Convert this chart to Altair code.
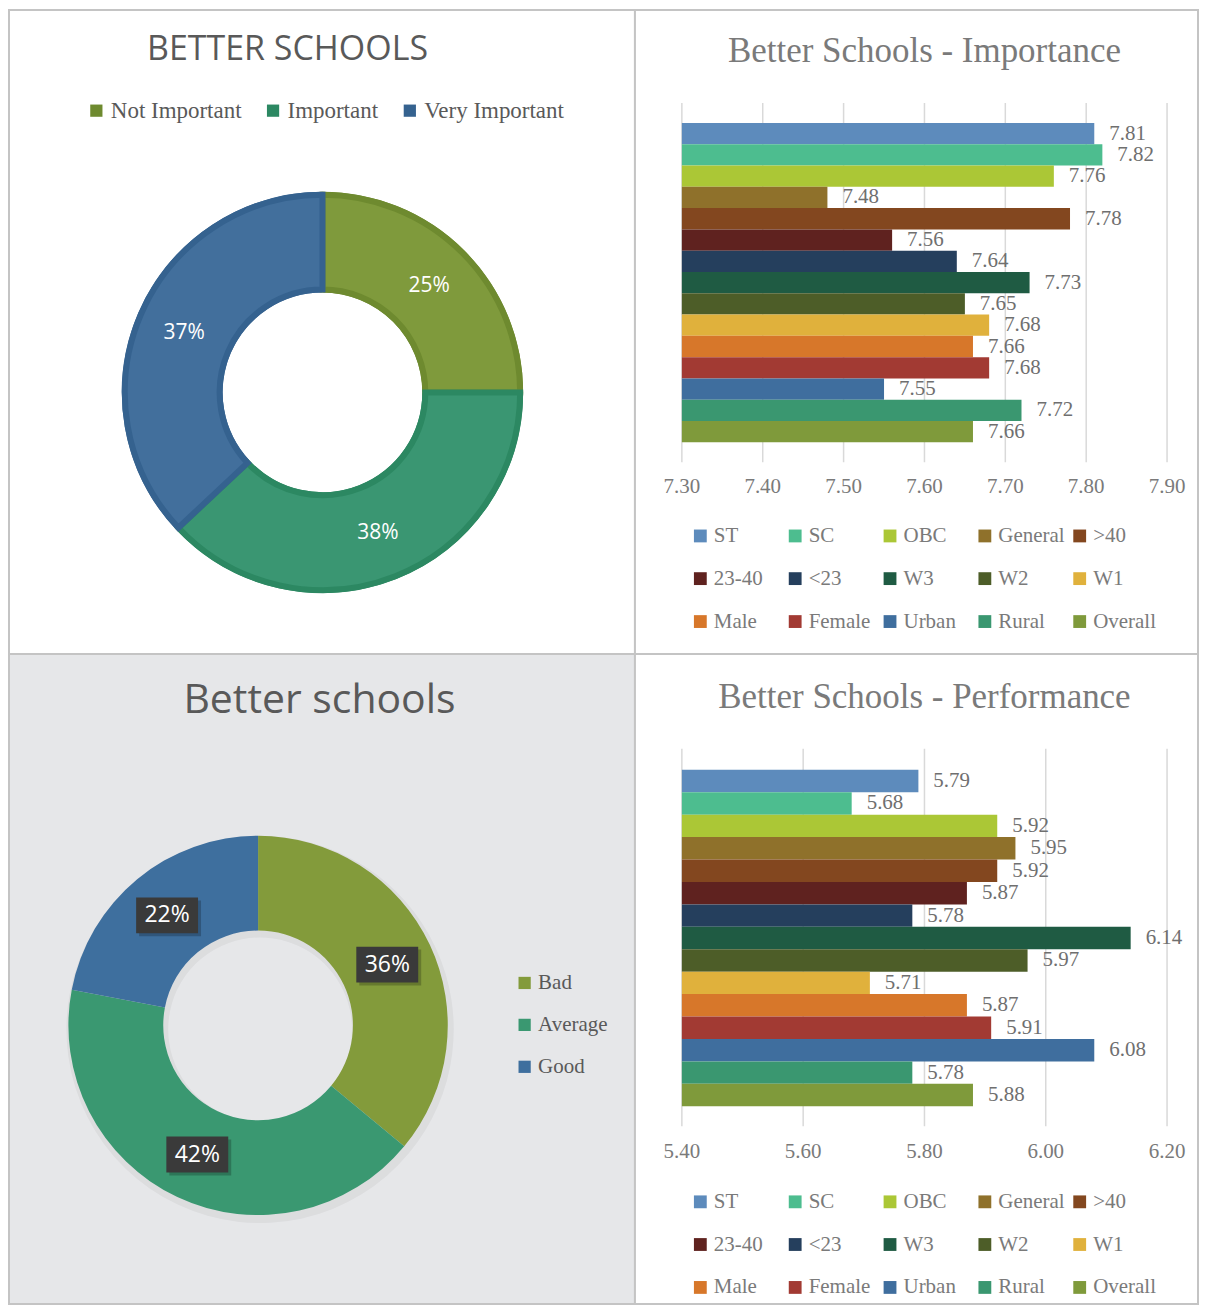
import altair as alt
import pandas as pd

# ---------------- data ----------------
title_a = ["BETTER SCHOOLS"]
title_b = ["Better Schools - Importance"]
title_c = ["Better schools"]
title_d = ["Better Schools - Performance"]

imp_labels = ["Not Important", "Important", "Very Important"]
imp_values = [25, 38, 37]

perf_labels = ["Bad", "Average", "Good"]
perf_values = [36, 42, 22]

groups = ["ST", "SC", "OBC", "General", ">40", "23-40", "<23", "W3", "W2", "W1",
          "Male", "Female", "Urban", "Rural", "Overall"]
importance = [7.81, 7.82, 7.76, 7.48, 7.78, 7.56, 7.64, 7.73, 7.65, 7.68,
              7.66, 7.68, 7.55, 7.72, 7.66]
performance = [5.79, 5.68, 5.92, 5.95, 5.92, 5.87, 5.78, 6.14, 5.97, 5.71,
               5.87, 5.91, 6.08, 5.78, 5.88]
imp_ticks = [7.30, 7.40, 7.50, 7.60, 7.70, 7.80, 7.90]
perf_ticks = [5.40, 5.60, 5.80, 6.00, 6.20]

# ---------------- styles ----------------
group_colors = ["#5d8bbc", "#4dbd8f", "#abc736", "#8f712b", "#83471f", "#5f221f",
                "#253f5d", "#1f5b43", "#4d5d28", "#e0b13c", "#d7772a", "#a23a33",
                "#3f6e9e", "#3a9770", "#7f9a3b"]
imp_fill = ["#7f9a3c", "#3a9672", "#426f9c"]
imp_edge = ["#6e8a2f", "#2c8862", "#35628f"]
perf_fill = ["#839b3b", "#3a9871", "#3e6f9e"]

SANS = "Open Sans"
SERIF = "Liberation Serif"
BORDER = "#c4c4c4"


def title_layer(text, x, y, font, size, color):
    return alt.Chart(pd.DataFrame({"t": text})).mark_text(
        font=font, fontSize=size, color=color, baseline="middle", align="center"
    ).encode(text="t:N", x=alt.value(x), y=alt.value(y))


# ---------------- panel A: importance donut ----------------
cxA, cyA = 314, 383
dfA = pd.DataFrame({"cat": imp_labels, "val": imp_values, "idx": list(range(len(imp_values)))})
dfA["lab"] = [f"{v}%" for v in imp_values]
thetaA = alt.Theta("val:Q", stack=True)
orderA = alt.Order("idx:Q")

a_base = alt.Chart(dfA).mark_arc(innerRadius=100, outerRadius=201).encode(
    theta=thetaA, order=orderA,
    color=alt.Color("cat:N", scale=alt.Scale(domain=imp_labels, range=imp_edge),
                    legend=alt.Legend(orient="none", direction="horizontal", legendX=76, legendY=89,
                                      title=None, symbolType="square", symbolSize=150,
                                      symbolStrokeWidth=0, labelFont=SERIF, labelFontSize=23,
                                      labelColor="#595959", columnPadding=20, labelOffset=3)),
    x=alt.value(cxA), y=alt.value(cyA))
a_face = alt.Chart(dfA).mark_arc(innerRadius=103, outerRadius=198, strokeWidth=6).encode(
    theta=thetaA, order=orderA,
    fill=alt.Fill("cat:N", scale=alt.Scale(domain=imp_labels, range=imp_fill), legend=None),
    stroke=alt.Stroke("cat:N", scale=alt.Scale(domain=imp_labels, range=imp_edge), legend=None),
    x=alt.value(cxA), y=alt.value(cyA))
a_text = alt.Chart(dfA).mark_text(radius=151, font=SANS, fontSize=21, color="white").encode(
    theta=thetaA, order=orderA, text="lab:N", x=alt.value(cxA), y=alt.value(cyA))
panelA = alt.layer(
    a_base, a_face, a_text,
    title_layer(title_a, 279, 40, SANS, 34, "#595959"),
).properties(width=627, height=645)

# ---------------- bar panel builder ----------------

def bar_panel(values, ticks, title, W, H, gy, by, ty, ly):
    df = pd.DataFrame({"grp": groups, "val": values})
    tdf = pd.DataFrame({"t": ticks})
    xs = alt.Scale(domain=[ticks[0], ticks[-1]], range=[47, 533], zero=False, nice=False)
    ys = alt.Scale(domain=groups, range=list(by), paddingInner=0, paddingOuter=0)
    grid = alt.Chart(tdf).mark_rule(color="#d9d9d9", strokeWidth=1.5).encode(
        x=alt.X("t:Q", scale=xs, axis=None), y=alt.value(gy[0]), y2=alt.value(gy[1]))
    tlab = alt.Chart(tdf).mark_text(font=SERIF, fontSize=21, color="#7a7a7a", baseline="middle").encode(
        x=alt.X("t:Q", scale=xs, axis=None), y=alt.value(ty), text=alt.Text("t:Q", format=".2f"))
    bars = alt.Chart(df).mark_bar().encode(
        x=alt.X("val:Q", scale=xs, axis=None), x2=alt.datum(ticks[0]),
        y=alt.Y("grp:N", scale=ys, axis=None, sort=groups),
        color=alt.Color("grp:N", scale=alt.Scale(domain=groups, range=group_colors),
                        legend=alt.Legend(orient="none", direction="horizontal", columns=5,
                                          legendX=55, legendY=ly, title=None, symbolType="square",
                                          symbolSize=165, symbolStrokeWidth=0, labelFont=SERIF,
                                          labelFontSize=21, labelColor="#7a7a7a", gridAlign="all",
                                          columnPadding=4, rowPadding=21, labelOffset=3)))
    vlab = alt.Chart(df).mark_text(font=SERIF, fontSize=21, color="#6f6f6f", align="left",
                                   baseline="middle", dx=15).encode(
        x=alt.X("val:Q", scale=xs, axis=None), y=alt.Y("grp:N", scale=ys, axis=None, sort=groups),
        text=alt.Text("val:Q", format=".2f"))
    return alt.layer(grid, bars, vlab, tlab,
                     title_layer(title, 290, gy[0] - 52, SERIF, 35, "#7a7a7a")
                     ).properties(width=W, height=H)


panelB = bar_panel(importance, imp_ticks, title_b, 564, 645, (93, 453), (113, 433), 478, 516)
panelD = bar_panel(performance, perf_ticks, title_d, 564, 651, (95, 473), (116, 453), 499, 538)

# ---------------- panel C: performance donut ----------------
cxC, cyC = 249.5, 372
dfC = pd.DataFrame({"cat": perf_labels, "val": perf_values, "idx": list(range(len(perf_values)))})
dfC["lab"] = [f"{v}%" for v in perf_values]
thetaC = alt.Theta("val:Q", stack=True)
orderC = alt.Order("idx:Q")

c_shadow = alt.Chart(dfC).mark_arc(innerRadius=92, outerRadius=194, color="black", opacity=0.045).encode(
    theta=thetaC, order=orderC, x=alt.value(cxC + 2), y=alt.value(cyC + 4))
c_arc = alt.Chart(dfC).mark_arc(innerRadius=95, outerRadius=190).encode(
    theta=thetaC, order=orderC,
    color=alt.Color("cat:N", scale=alt.Scale(domain=perf_labels, range=perf_fill),
                    legend=alt.Legend(orient="none", direction="vertical", legendX=506, legendY=319,
                                      title=None, symbolType="square", symbolSize=150,
                                      symbolStrokeWidth=0, labelFont=SERIF, labelFontSize=21,
                                      labelColor="#595959", rowPadding=20, labelOffset=3)),
    x=alt.value(cxC), y=alt.value(cyC))

lab_pos = alt.Chart(dfC).transform_joinaggregate(total="sum(val)").transform_window(
    cum="sum(val)", sort=[alt.SortField("idx")], frame=[None, 0]
).transform_calculate(
    ang="2*PI*(datum.cum - datum.val/2)/datum.total",
    px=f"{cxC} + 143*sin(datum.ang)",
    py=f"{cyC} - 143*cos(datum.ang)",
    bx1="datum.px - 31", bx2="datum.px + 31", by1="datum.py - 18", by2="datum.py + 18",
    sx1="datum.px - 28", sx2="datum.px + 34", sy1="datum.py - 15", sy2="datum.py + 21",
)
c_boxshadow = lab_pos.mark_rect(color="black", opacity=0.22).encode(
    x=alt.X("sx1:Q", scale=None, axis=None), x2="sx2:Q",
    y=alt.Y("sy1:Q", scale=None, axis=None), y2="sy2:Q")
c_box = lab_pos.mark_rect(color="#3a3a3a").encode(
    x=alt.X("bx1:Q", scale=None, axis=None), x2="bx2:Q",
    y=alt.Y("by1:Q", scale=None, axis=None), y2="by2:Q")
c_text = lab_pos.mark_text(font=SANS, fontSize=23, color="white", baseline="middle").encode(
    x=alt.X("px:Q", scale=None, axis=None), y=alt.Y("py:Q", scale=None, axis=None), text="lab:N")

panelC = alt.layer(
    c_shadow, c_arc, c_boxshadow, c_box, c_text,
    title_layer(title_c, 311, 47, SANS, 41, "#595959"),
).properties(width=627, height=651,
             view=alt.ViewBackground(fill="#e6e7e9", stroke=BORDER, strokeWidth=2))

chart = alt.concat(panelA, panelB, panelC, panelD, columns=2, spacing=0).resolve_scale(
    color="independent", fill="independent", stroke="independent", theta="independent"
).resolve_legend(color="independent").properties(
    padding=0, align="each", bounds="flush"
).configure_view(stroke=BORDER, strokeWidth=2, fill="white")

chart.save("out.html", embed_options={"renderer": "svg", "actions": False})
